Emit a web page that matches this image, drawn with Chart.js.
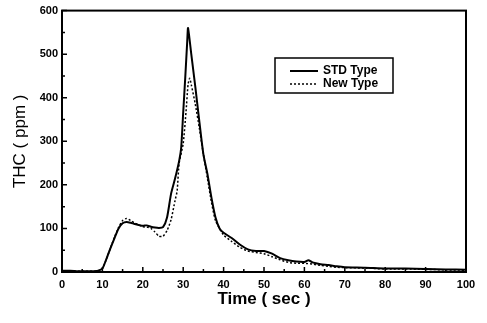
<!DOCTYPE html>
<html>
<head>
<meta charset="utf-8">
<script src="https://cdn.jsdelivr.net/npm/chart.js@4"></script>
<style>
  body { margin: 0; background: #fff; }
  #wrap { width: 487px; height: 323px; }
</style>
</head>
<body>
<div id="wrap"><canvas id="c" width="487" height="323"></canvas></div>
<script>
// STD Type (solid line)
var stdTime = [0, 2, 4, 6, 8, 9, 10, 11, 12, 13, 14, 15, 16, 17, 18, 19, 20, 21, 22, 23, 24, 25, 26, 27, 28, 29, 29.5, 30, 30.5, 31, 31.2, 32, 33, 34, 35, 36, 37, 38, 39, 40, 42, 44, 46, 48, 50, 52, 54, 56, 58, 60, 61, 62, 64, 66, 68, 70, 75, 80, 85, 90, 95, 100];
var stdThc  = [3, 3, 2, 2, 2, 3, 8, 30, 55, 78, 100, 112, 115, 113, 110, 108, 106, 107, 104, 102, 101, 103, 125, 180, 215, 255, 285, 366, 445, 530, 560, 500, 425, 345, 270, 225, 170, 125, 100, 90, 78, 63, 52, 48, 48, 42, 32, 27, 24, 23, 27, 22, 18, 16, 13, 11, 10, 8, 8, 7, 6, 5];
// New Type (dotted line)
var newTime = [0, 2, 4, 6, 8, 9, 10, 11, 12, 13, 14, 15, 16, 17, 18, 19, 20, 21, 22, 23, 24, 25, 26, 27, 28, 28.5, 29, 30, 30.7, 31.2, 31.6, 32, 33, 34, 35, 36, 37, 38, 40, 42, 44, 46, 48, 50, 52, 54, 56, 58, 60, 62, 64, 66, 68, 70, 75, 80, 85, 90, 95, 100];
var newThc  = [2, 2, 2, 2, 2, 3, 8, 30, 55, 80, 102, 118, 123, 118, 112, 108, 104, 103, 100, 92, 82, 82, 95, 120, 165, 186, 250, 295, 368, 430, 445, 430, 385, 330, 270, 215, 160, 118, 85, 70, 57, 48, 45, 42, 35, 28, 22, 20, 20, 18, 15, 13, 11, 10, 9, 7, 7, 6, 5, 4];

var xTicks = [0, 10, 20, 30, 40, 50, 60, 70, 80, 90, 100];
var yTicks = [0, 100, 200, 300, 400, 500, 600];
var seriesNames = ['STD Type', 'New Type'];

function toPoints(xs, ys) {
    var pts = [];
    for (var i = 0; i < xs.length; i++) {
        pts.push({ x: xs[i], y: ys[i] });
    }
    return pts;
}

var tickFont = { family: 'Liberation Sans', size: 11, weight: 'bold' };

// frame, inward ticks and the boxed legend
var framePlugin = {
    id: 'frame',
    afterDatasetsDraw: function (chart) {
        var ctx = chart.ctx;
        var a = chart.chartArea;
        var xs = chart.scales.x, ys = chart.scales.y;
        ctx.save();
        ctx.strokeStyle = '#000';
        ctx.lineWidth = 2;
        ctx.strokeRect(a.left, a.top, a.right - a.left, a.bottom - a.top);

        ctx.lineWidth = 1.5;
        ctx.beginPath();
        for (var v = 0; v <= 100; v += 5) {
            var px = xs.getPixelForValue(v);
            var len = v % 10 == 0 ? 5 : 3;
            ctx.moveTo(px, a.bottom);
            ctx.lineTo(px, a.bottom - len);
        }
        for (var w = 0; w <= 600; w += 50) {
            var py = ys.getPixelForValue(w);
            var l2 = w % 100 == 0 ? 5 : 3;
            ctx.moveTo(a.left, py);
            ctx.lineTo(a.left + l2, py);
        }
        ctx.stroke();

        // legend
        ctx.lineWidth = 1.5;
        ctx.strokeRect(275, 58, 118, 35);
        var ds = chart.data.datasets;
        var rows = [71, 84];
        ctx.font = 'bold 12px "Liberation Sans"';
        ctx.textBaseline = 'middle';
        ctx.fillStyle = '#000';
        for (var i = 0; i < ds.length; i++) {
            ctx.lineWidth = ds[i].borderWidth;
            ctx.setLineDash(ds[i].borderDash || []);
            ctx.beginPath();
            ctx.moveTo(290, rows[i]);
            ctx.lineTo(318, rows[i]);
            ctx.stroke();
            ctx.setLineDash([]);
            ctx.fillText(ds[i].label, 323, rows[i]);
        }
        ctx.restore();
    }
};

var ctx = document.getElementById('c').getContext('2d');
var chart = new Chart(ctx, {
    type: 'line',
    data: {
        datasets: [
            {
                label: seriesNames[0],
                data: toPoints(stdTime, stdThc),
                borderColor: '#000',
                borderWidth: 2,
                pointRadius: 0,
                tension: 0.2,
                fill: false
            },
            {
                label: seriesNames[1],
                data: toPoints(newTime, newThc),
                borderColor: '#000',
                borderWidth: 1.5,
                borderDash: [2, 2],
                pointRadius: 0,
                tension: 0.2,
                fill: false
            }
        ]
    },
    options: {
        responsive: false,
        animation: false,
        layout: { padding: { top: 9, right: 21, left: 0, bottom: 0 } },
        plugins: {
            legend: { display: false },
            tooltip: { enabled: false }
        },
        scales: {
            x: {
                type: 'linear',
                min: 0,
                max: 100,
                afterBuildTicks: function (s) { s.ticks = xTicks.map(function (v) { return { value: v }; }); },
                afterFit: function (s) { s.height = 51; },
                grid: { display: false, drawTicks: false },
                border: { display: false },
                ticks: { color: '#000', font: tickFont, padding: 6, maxRotation: 0 },
                title: {
                    display: true,
                    text: 'Time ( sec )',
                    color: '#000',
                    font: { family: 'Liberation Sans', size: 17, weight: 'bold' },
                    padding: { top: 0, bottom: 13 }
                }
            },
            y: {
                type: 'linear',
                min: 0,
                max: 600,
                afterBuildTicks: function (s) { s.ticks = yTicks.map(function (v) { return { value: v }; }); },
                afterFit: function (s) { s.width = 62; },
                grid: { display: false, drawTicks: false },
                border: { display: false },
                ticks: { color: '#000', font: tickFont, padding: 4 },
                title: {
                    display: true,
                    text: 'THC ( ppm )',
                    color: '#000',
                    font: { family: 'Liberation Sans', size: 17 },
                    padding: { top: 10, bottom: 0 }
                }
            }
        }
    },
    plugins: [framePlugin]
});
</script>
</body>
</html>
